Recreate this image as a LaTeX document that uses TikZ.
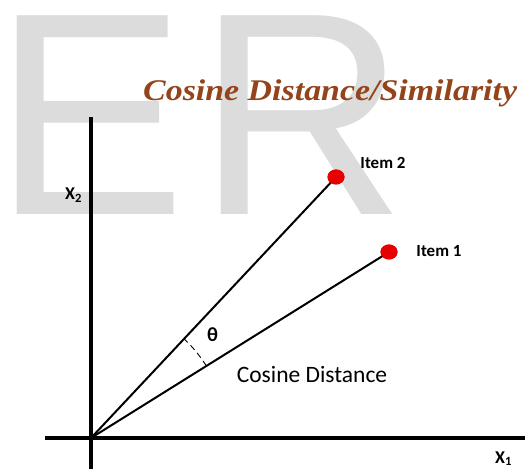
\documentclass[tikz,border=0pt]{standalone}
\usepackage{fontspec}
\setsansfont{Carlito}
\newfontfamily\titlefont{Liberation Serif}
\newfontfamily\markfont{Liberation Sans}
\usepackage{xcolor}
\usepackage{tikz}
\usetikzlibrary{positioning,shapes.geometric}
\definecolor{mark}{HTML}{DCDCDC}
\definecolor{rust}{HTML}{94441A}
\definecolor{dotred}{HTML}{E80000}
\tikzset{
  axisline/.style={line width=3.2pt, black},
  vecline/.style={line width=2pt, black},
  itemdot/.style={
    ellipse, fill=dotred, draw=none,
    minimum width=17pt, minimum height=15pt,
    inner sep=0pt
  },
  itemlabel/.style={
    font=\fontsize{17}{20}\selectfont\sffamily\bfseries,
    inner sep=0pt
  },
  axislabel/.style={
    font=\fontsize{18}{20}\selectfont\sffamily\bfseries,
    inner sep=0pt, anchor=base west
  },
}

\begin{document}
\begin{tikzpicture}[x=1pt, y=1pt]
  \useasboundingbox (0,0) rectangle (525,469);
  % watermark
  \node[anchor=base west, inner sep=0pt, text=mark,
    font=\fontsize{289}{289}\selectfont\markfont] (wmark) at (-7,254) {E\kern12pt R};
  % title
  \node[anchor=base west, inner sep=0pt, text=rust,
    font=\fontsize{30}{32}\selectfont\titlefont\bfseries\itshape]
    (title) at (143,368) {\scalebox{1.13}[1]{Cosine Distance/Similarity}};
  % axes
  \coordinate (O) at (91,31);
  \coordinate (ytop) at (91,352);
  \coordinate (ybot) at (91,0);
  \coordinate (xleft) at (45,31);
  \coordinate (xright) at (525,31);
  \draw[axisline] (ybot) -- (ytop);
  \draw[axisline] (xleft) -- (xright);
  \node[axislabel] (xtwo) at (65,269) {X\textsubscript{2}};
  \node[axislabel] (xone) at (495,6) {X\textsubscript{1}};
  % items
  \node[itemdot] (item2) at (336,292) {};
  \node[itemdot] (item1) at (389,217) {};
  \draw[vecline] (O) -- (item2.center);
  \draw[vecline] (O) -- (item1.center);
  \node[itemdot] at (item2) {};
  \node[itemdot] at (item1) {};
  \node[itemlabel] (lab2) at (383,306) {Item 2};
  \node[itemlabel] (lab1) at (439,218) {Item 1};
  % angle
  \draw[line width=0.9pt, dash pattern=on 6pt off 4pt]
    ([shift={(32:136pt)}]O) arc[start angle=32, end angle=47, radius=136pt];
  \node[font=\fontsize{20}{22}\selectfont\sffamily\bfseries, inner sep=0pt]
    (theta) at (212.5,134) {θ};
  \node[anchor=base, inner sep=0pt, font=\fontsize{23.5}{26}\selectfont\sffamily]
    (cdist) at (312,86) {Cosine Distance};
\end{tikzpicture}
\end{document}
